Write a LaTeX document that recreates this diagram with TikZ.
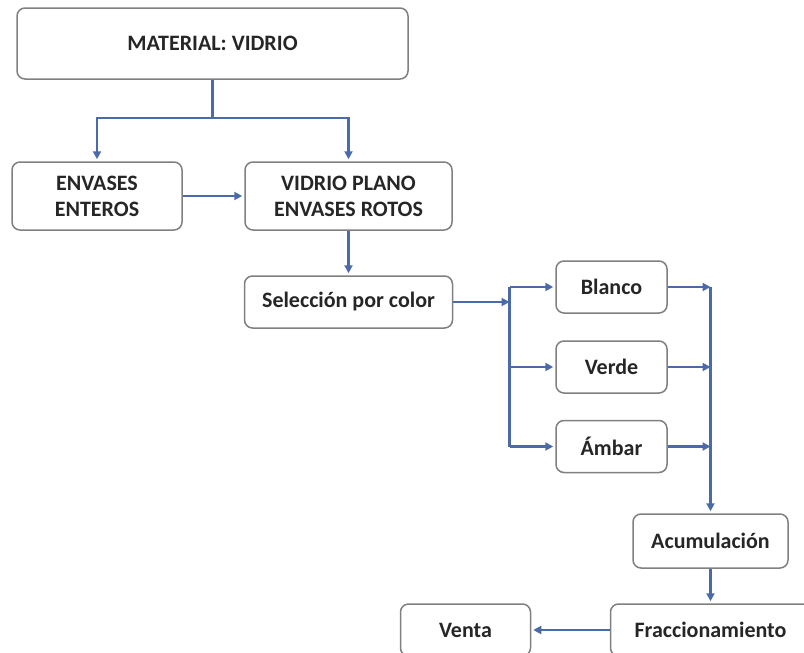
\documentclass[tikz,border=0pt]{standalone}
\usepackage{fontspec}
\setmainfont{Carlito}
\usetikzlibrary{positioning, arrows.meta}

\definecolor{flowblue}{HTML}{4A6AA8}
\definecolor{boxgray}{HTML}{808080}

\tikzset{
    box/.style = {draw = boxgray, line width = 1.5pt, rounded corners = 8pt, fill = white,
                  align = center, text = black!85, font = \fontsize{22}{26}\selectfont\bfseries},
    flow/.style = {draw = flowblue, line width = 2.2pt, -{Triangle[length=8pt, width=8pt]}, shorten >= 2pt}
}

\begin{document}
\begin{tikzpicture}[x=1pt, y=-1pt, node distance=80pt]

    \useasboundingbox (0,0) rectangle (804,653);
    \clip (0,0) rectangle (804,653);

    \node [box, minimum width=391pt, minimum height=71pt] (mat) at (212.5,43.5) {MATERIAL: VIDRIO};
    \node [box, minimum width=207pt, minimum height=68pt] (vid) [below of=mat, xshift=136pt, node distance=152.5pt] {VIDRIO PLANO\\ENVASES ROTOS};
    \node [box, minimum width=170pt, minimum height=68pt] (ent) [left of=vid, node distance=251.5pt] {ENVASES\\ENTEROS};
    \node [box, minimum width=208pt, minimum height=52pt] (sel) [below of=vid, node distance=106pt] {Selección por color};

    \node [box, minimum width=111pt, minimum height=52pt] (bla) [right of=sel, yshift=15pt, node distance=263pt] {Blanco};
    \node [box, minimum width=111pt, minimum height=52pt] (ver) [below of=bla] {Verde};
    \node [box, minimum width=111pt, minimum height=52pt] (amb) [below of=ver, node distance=79.5pt] {Ámbar};

    \node [box, minimum width=155pt, minimum height=54pt] (acu) [below of=amb, xshift=99pt, node distance=94.5pt] {Acumulación};
    \node [box, minimum width=200pt, minimum height=52pt] (fra) [below of=acu, node distance=89pt] {Fraccionamiento};
    \node [box, minimum width=130pt, minimum height=52pt] (ven) [left of=fra, node distance=245pt] {Venta};

    \node [coordinate] (split) [below of=mat, node distance=74.5pt] {};
    \node [coordinate] (fork) [right of=sel, node distance=161pt] {};
    \node [coordinate] (gather) [right of=bla, node distance=99pt] {};

    \draw[draw = flowblue, line width = 2.2pt] (mat) -- (split);
    \draw[flow] (split) -| (ent.north);
    \draw[flow] (split) -| (vid.north);
    \draw[flow] (ent) -- (vid);
    \draw[flow] (vid) -- (sel);

    \draw[flow, shorten >= 0pt] (sel) -- (fork);
    \draw[draw = flowblue, line width = 2.2pt] (fork |- bla) -- (fork |- amb);
    \draw[flow] (fork |- bla) -- (bla);
    \draw[flow] (fork |- ver) -- (ver);
    \draw[flow] (fork |- amb) -- (amb);

    \draw[flow, shorten >= 0pt] (bla) -- (gather);
    \draw[flow, shorten >= 0pt] (ver) -- (gather |- ver);
    \draw[flow, shorten >= 0pt] (amb) -- (gather |- amb);
    \draw[flow] (gather) -- (acu);

    \draw[flow] (acu.south) -- (acu.south |- fra.north);
    \draw[flow] (fra) -- (ven);

\end{tikzpicture}
\end{document}
